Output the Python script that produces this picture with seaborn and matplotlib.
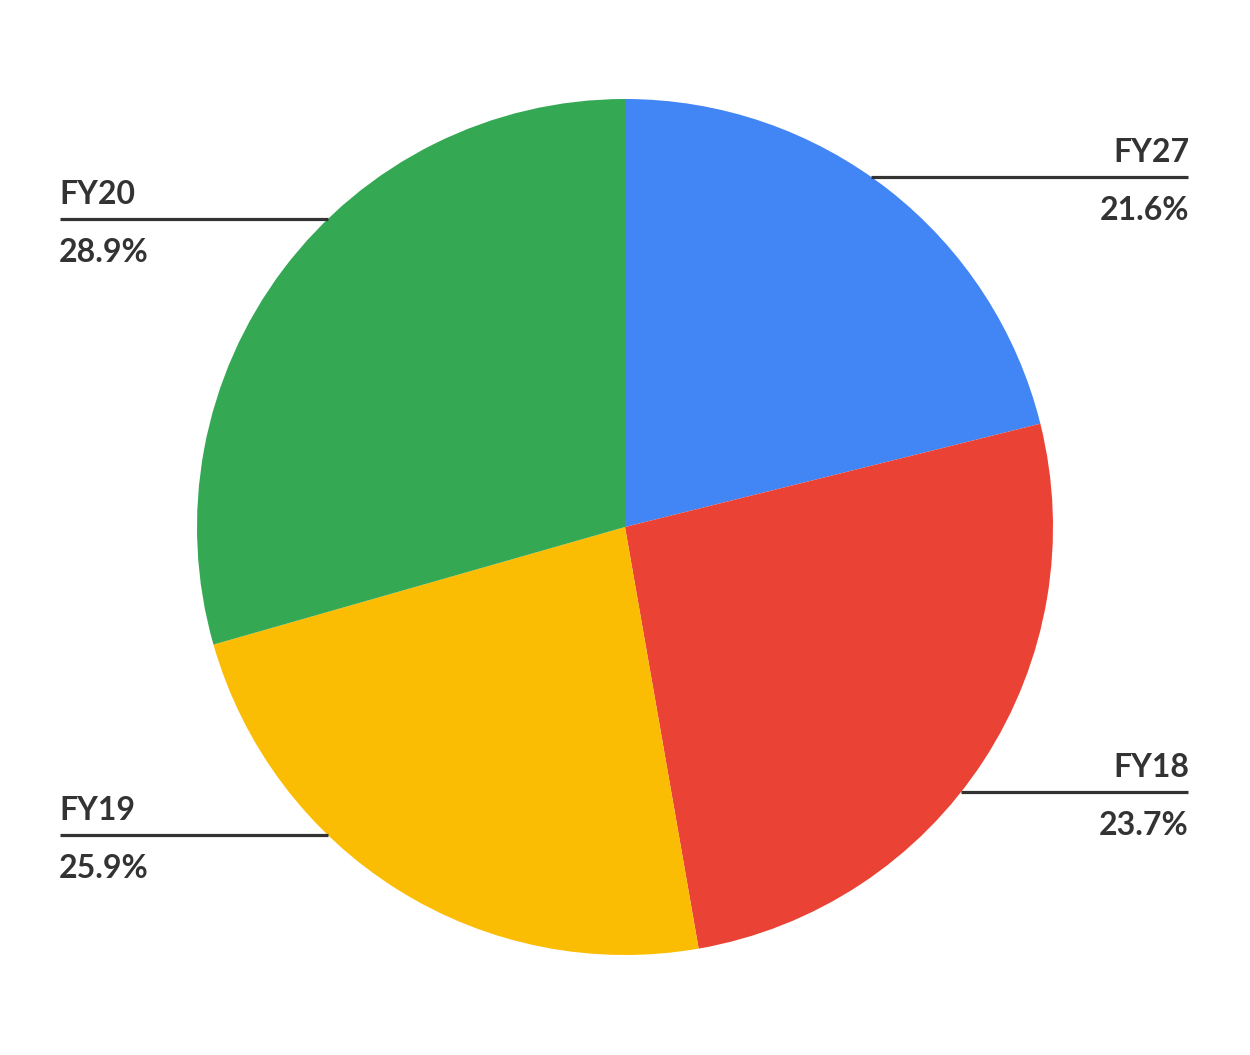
import numpy as np
import matplotlib
matplotlib.use("Agg")
import matplotlib.pyplot as plt
import seaborn as sns

# Data
labels = ["FY27", "FY18", "FY19", "FY20"]
# percentages printed next to each slice
label_pct = ["21.6%", "23.7%", "25.9%", "28.9%"]
slice_sizes = [21.1, 26.1, 23.3, 29.4]
colors = ["#4285F4", "#EA4335", "#FBBC04", "#34A853"]

# label layout (pixel rows of leader lines, side of the chart)
line_rows = [177, 792, 835, 219]
sides = ["right", "right", "left", "left"]

sns.set_style("white")
plt.rcParams["font.family"] = ["Lato", "DejaVu Sans"]

W, H = 1250, 1055
fig = plt.figure(figsize=(W / 100, H / 100), dpi=100)
ax = fig.add_axes([0, 0, 1, 1])

cx, cy, r = 625, 527, 428
# y axis gets inverted below: startangle=-90 is the top, counterclock=True runs clockwise on screen
wedges, _ = ax.pie(slice_sizes, colors=colors, startangle=-90, counterclock=True,
                   center=(cx, cy), radius=r, frame=True,
                   wedgeprops=dict(linewidth=0))
ax.set_xlim(0, W)
ax.set_ylim(H, 0)
ax.set_aspect("equal")
ax.axis("off")

txt = "#333333"
for lab, pct, row, side in zip(labels, label_pct, line_rows, sides):
    dx = np.sqrt(r ** 2 - (row - cy) ** 2)
    if side == "right":
        x0, x1, ha, xt = cx + dx, 1188, "right", 1189
    else:
        x0, x1, ha, xt = 60, cx - dx, "left", 59
    ax.plot([x0, x1], [row, row], color=txt, lw=2.3, solid_capstyle="butt")
    ax.text(xt, row - 15, lab, ha=ha, va="baseline", fontsize=23,
            color=txt, fontweight="bold")
    ax.text(xt, row + 43, pct, ha=ha, va="baseline", fontsize=23,
            color=txt, fontweight="bold")

fig.savefig("out.png", dpi=100)
